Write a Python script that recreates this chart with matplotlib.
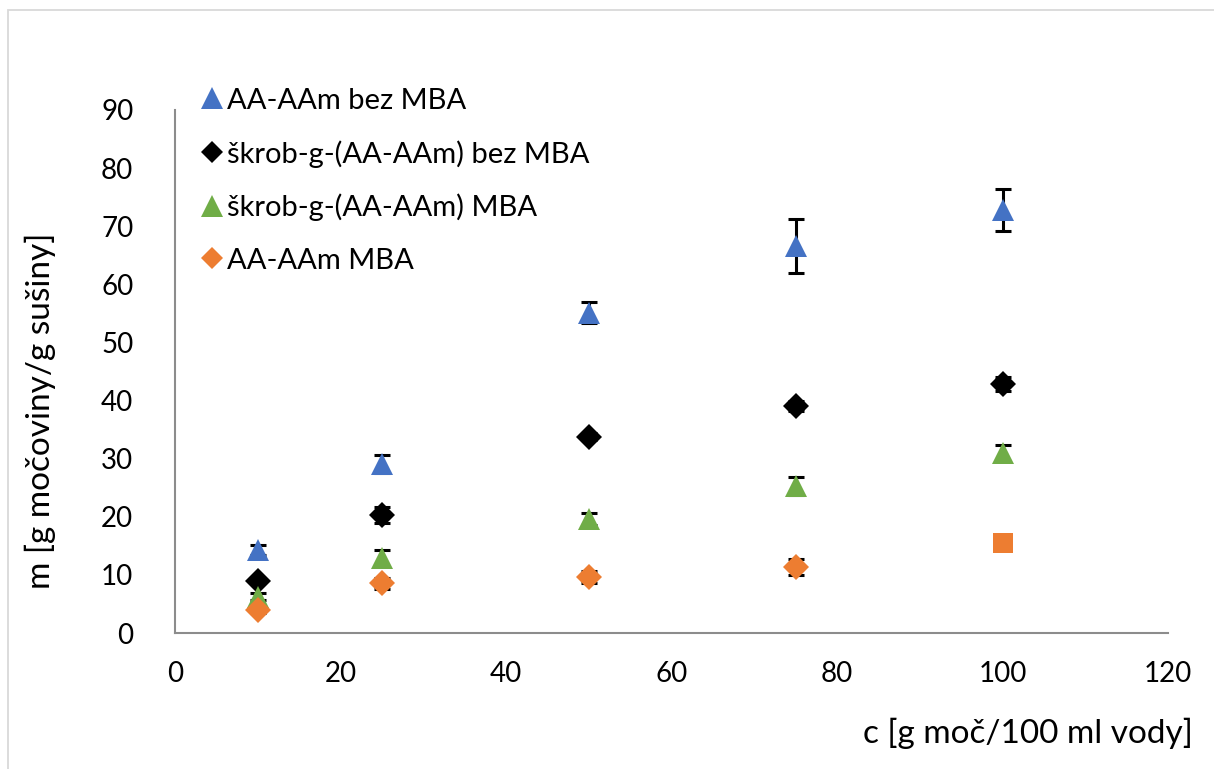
import matplotlib
matplotlib.use("Agg")
import matplotlib.pyplot as plt
from matplotlib.lines import Line2D
from matplotlib.patches import Rectangle

plt.rcParams['font.family'] = ['Lato', 'DejaVu Sans']

# concentration of urea solution [g / 100 ml water]
conc = [10, 25, 50, 75, 100]

# absorbed urea [g / g dry mass] with standard deviations
aa_aam_bez = [14.3, 29.1, 55.1, 66.6, 72.8]
aa_aam_bez_err = [0.8, 1.6, 1.8, 4.6, 3.6]

skrob_bez = [9.0, 20.3, 33.8, 39.1, 42.8]
skrob_bez_err = [0.4, 1.4, 0.6, 0.9, 1.2]

skrob_mba = [6.2, 12.9, 19.6, 25.3, 31.0]
skrob_mba_err = [0.6, 1.3, 1.0, 1.5, 1.4]

aa_aam_mba = [4.0, 8.55, 9.6, 11.4, 15.5]
aa_aam_mba_err = [0.5, 1.0, 1.0, 1.4, 0.5]

labels = ["AA-AAm bez MBA", "škrob-g-(AA-AAm) bez MBA",
          "škrob-g-(AA-AAm) MBA", "AA-AAm MBA"]

x_ticks = [0, 20, 40, 60, 80, 100, 120]
y_ticks = [0, 10, 20, 30, 40, 50, 60, 70, 80, 90]

BLUE = "#4472C4"
GREEN = "#70AD47"
ORANGE = "#ED7D31"
BLACK = "#000000"

fig = plt.figure(figsize=(12.14, 7.69), dpi=100)
ax = fig.add_axes([175 / 1214, 1 - 633 / 769, (1168 - 175) / 1214, (633 - 110) / 769])

# chart area border
fig.patches.append(Rectangle((8 / 1214, -0.05), 1.2, 1 - 10 / 769 + 0.05,
                             transform=fig.transFigure, fill=False,
                             edgecolor="#d9d9d9", linewidth=1.3))

err_kw = dict(fmt="none", ecolor="black", elinewidth=2.2, capsize=6, capthick=2.2, zorder=2)
ax.errorbar(conc, aa_aam_bez, yerr=aa_aam_bez_err, **err_kw)
ax.errorbar(conc, skrob_bez, yerr=skrob_bez_err, **err_kw)
ax.errorbar(conc, skrob_mba, yerr=skrob_mba_err, **err_kw)
ax.errorbar(conc, aa_aam_mba, yerr=aa_aam_mba_err, **err_kw)

tri_ms = 16
dia_ms = 13.5
ax.plot(conc, aa_aam_bez, linestyle="none", marker="^", markersize=tri_ms,
        color=BLUE, markeredgewidth=0, zorder=3)
ax.plot(conc, skrob_bez, linestyle="none", marker="D", markersize=dia_ms,
        color=BLACK, markeredgewidth=0, zorder=3)
ax.plot(conc, skrob_mba, linestyle="none", marker="^", markersize=tri_ms,
        color=GREEN, markeredgewidth=0, zorder=3)
ax.plot(conc[:-1], aa_aam_mba[:-1], linestyle="none", marker="D", markersize=dia_ms,
        color=ORANGE, markeredgewidth=0, zorder=4)
ax.plot(conc[-1:], aa_aam_mba[-1:], linestyle="none", marker="s", markersize=15,
        color=ORANGE, markeredgewidth=0, zorder=4)

ax.set_xlim(0, 120)
ax.set_ylim(0, 90)
ax.set_xticks(x_ticks)
ax.set_yticks(y_ticks)
for s in ("top", "right"):
    ax.spines[s].set_visible(False)
for s in ("left", "bottom"):
    ax.spines[s].set_color("#8c8c8c")
    ax.spines[s].set_linewidth(1.5)
ax.tick_params(axis="both", length=0, labelsize=20, colors="black")
ax.tick_params(axis="y", pad=30)
ax.tick_params(axis="x", pad=20)

fig.text(40 / 1214, 1 - 411 / 769, "m [g močoviny/g sušiny]", rotation=90,
         ha="center", va="center", fontsize=24)
fig.text(1193 / 1214, 1 - 733 / 769, "c [g moč/100 ml vody]",
         ha="right", va="center", fontsize=24)

handles = [
    Line2D([], [], linestyle="none", marker="^", markersize=tri_ms, color=BLUE, markeredgewidth=0),
    Line2D([], [], linestyle="none", marker="D", markersize=dia_ms - 2, color=BLACK, markeredgewidth=0),
    Line2D([], [], linestyle="none", marker="^", markersize=tri_ms, color=GREEN, markeredgewidth=0),
    Line2D([], [], linestyle="none", marker="D", markersize=dia_ms - 2, color=ORANGE, markeredgewidth=0),
]
ax.legend(handles, labels, loc="upper left", bbox_to_anchor=(0.017, 1.065),
          frameon=False, fontsize=21, handlelength=0.6, handletextpad=0.2,
          labelspacing=0.9, borderaxespad=0)

fig.savefig("out.png", dpi=100, facecolor="white")
